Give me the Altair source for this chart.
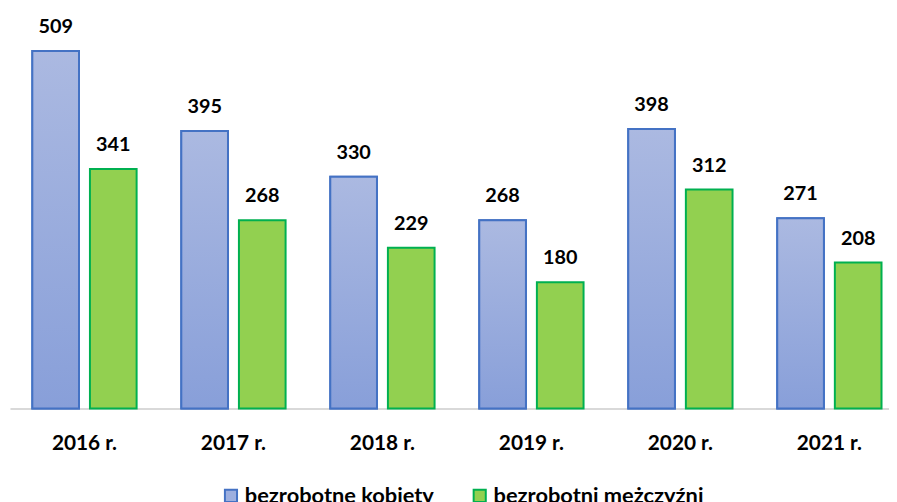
import altair as alt
import pandas as pd

years = ["2016 r.", "2017 r.", "2018 r.", "2019 r.", "2020 r.", "2021 r."]
series = ["bezrobotne kobiety", "bezrobotni mężczyźni"]
women = [509, 395, 330, 268, 398, 271]
men = [341, 268, 229, 180, 312, 208]

rows = []
for y, w, m in zip(years, women, men):
    rows.append({"year": y, "series": series[0], "value": w})
    rows.append({"year": y, "series": series[1], "value": m})
df = pd.DataFrame(rows)

FONT = "Lato"

x_enc = alt.X("year:N", sort=years, title=None,
              scale=alt.Scale(paddingInner=0.3, paddingOuter=0.15),
              axis=alt.Axis(domainColor="#d9d9d9", domainWidth=2, ticks=False,
                            labelFont=FONT, labelFontSize=21, labelFontWeight="bold",
                            labelColor="#000000", labelPadding=24, labelAngle=0))
xoff_enc = alt.XOffset("series:N", scale=alt.Scale(domain=series, paddingInner=0.19, paddingOuter=0))
y_enc = alt.Y("value:Q", scale=alt.Scale(domain=[0, 560]), axis=None)

base = alt.Chart(df)

bars = base.mark_bar(strokeWidth=2).encode(
    x=x_enc, xOffset=xoff_enc, y=y_enc,
    color=alt.Color("series:N", scale=alt.Scale(domain=series, range=["#9dafdf", "#92d050"]),
                    title=None,
                    legend=alt.Legend(orient="none", legendX=212, legendY=474, direction="horizontal",
                                      symbolType="square", symbolSize=150, symbolStrokeWidth=2,
                                      labelFont=FONT, labelFontSize=22, labelFontWeight="bold",
                                      labelColor="#000000", labelOffset=3, columnPadding=35,
                                      padding=0, labelLimit=400)),
    stroke=alt.Stroke("series:N", scale=alt.Scale(domain=series, range=["#4472c4", "#00b050"]),
                      title=None),
)

grad = alt.Gradient(gradient="linear",
                    stops=[alt.GradientStop(color="#abb9e1", offset=0),
                           alt.GradientStop(color="#889fd9", offset=1)],
                    x1=0, x2=0, y1=0, y2=1)

women_bars = base.transform_filter(alt.datum.series == series[0]).mark_bar(
    fill=grad, stroke="#4472c4", strokeWidth=2
).encode(x=x_enc, xOffset=xoff_enc, y=y_enc)

labels = base.mark_text(font=FONT, fontSize=20, fontWeight="bold", color="#000000",
                        baseline="alphabetic", dy=-18).encode(
    x=x_enc, xOffset=xoff_enc, y=y_enc, text="value:Q")

chart = alt.layer(bars, women_bars, labels).properties(
    width=902, height=397,
    autosize=alt.AutoSizeParams(type="none"),
    padding={"left": 2, "top": 5, "right": -15, "bottom": 92},
).configure_view(stroke=None)

chart.save("out.html", embed_options={"renderer": "svg", "actions": False})
